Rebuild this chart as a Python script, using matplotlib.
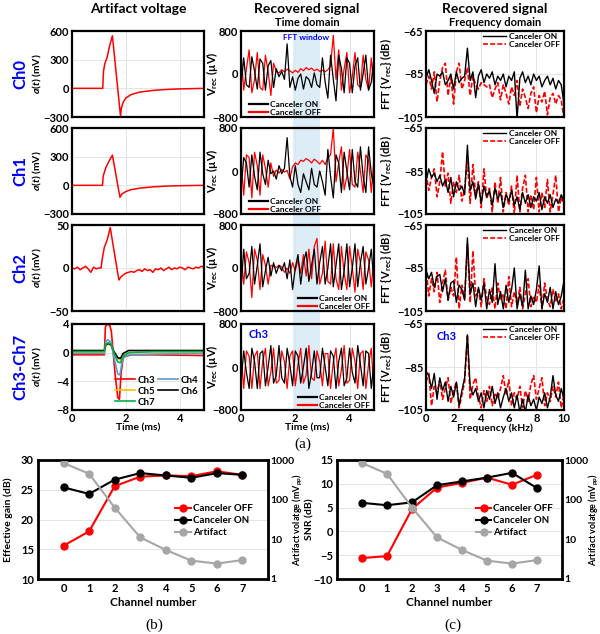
import numpy as np
import matplotlib
matplotlib.use("Agg")
import matplotlib.pyplot as plt
from matplotlib.patches import Rectangle
from matplotlib.lines import Line2D

plt.rcParams['font.family'] = ['Lato', 'DejaVu Sans']
plt.rcParams['font.weight'] = 'bold'
plt.rcParams['axes.labelweight'] = 'bold'
plt.rcParams['mathtext.fontset'] = 'custom'
plt.rcParams['mathtext.rm'] = 'Lato:bold'
plt.rcParams['mathtext.it'] = 'Lato:italic:bold'
plt.rcParams['mathtext.bf'] = 'Lato:bold'

# ---------------------------------------------------------------------------
# Artifact voltage (mV) vs time (ms)
# ---------------------------------------------------------------------------
ch0_t = [0, 1.14, 1.17, 1.22, 1.3, 1.4, 1.5, 1.8, 1.83, 1.9, 2.0, 2.2, 2.5, 3.0, 3.5, 4.0, 4.9]
ch0_v = [0, 0, 180, 260, 320, 450, 550, -290, -210, -145, -100, -65, -40, -22, -12, -6, 0]

ch1_t = [0, 1.13, 1.16, 1.25, 1.35, 1.5, 1.78, 1.85, 2.0, 2.2, 2.5, 3.0, 3.5, 4.0, 4.9]
ch1_v = [0, 0, 100, 180, 240, 316, -125, -90, -65, -45, -30, -16, -8, -4, 0]

ch2_t = [0.0, 0.1, 0.2, 0.3, 0.4, 0.5, 0.6, 0.7, 0.8, 0.9, 1.0,
         1.08, 1.12, 1.2, 1.3, 1.42, 1.55, 1.74,
         1.8, 1.9, 2.0, 2.1, 2.2, 2.3, 2.4, 2.5, 2.6, 2.7, 2.8, 2.9, 3.0, 3.1, 3.2, 3.3,
         3.4, 3.5, 3.6, 3.7, 3.8, 3.9, 4.0, 4.1, 4.2, 4.3, 4.4, 4.5, 4.6, 4.7, 4.8, 4.9]
ch2_v = [0, -1, 1, -2, 0, 2, -1, -5, 1, -1, 0,
         0, 10, 24, 32, 47, 22, -14,
         -11, -8, -6, -5, -4, -5, -3, -2, -4, -1, -3, -2, -5, -1, -2, 0,
         -3, -1, 1, -2, 0, -1, 1, 0, -2, 1, 0, -1, 1, 0, 2, 1]

ch3_t = [0, 1.2, 1.24, 1.3, 1.4, 1.46, 1.6, 1.7, 1.76, 1.82, 1.9, 2.2, 3.0, 4.9]
ch3_v = [-0.3, -0.3, 3.6, 4.0, 3.8, 3.0, -3.0, -6.3, -6.5, -3.0, -0.6, -0.3, -0.3, -0.4]
ch4_t = [0, 1.2, 1.25, 1.32, 1.45, 1.55, 1.7, 1.78, 1.88, 2.1, 3.0, 4.9]
ch4_v = [-0.1, -0.1, 1.5, 1.8, 1.5, -0.5, -3.0, -3.1, -0.8, -0.3, -0.2, -0.1]
ch5_t = [0, 1.2, 1.25, 1.35, 1.45, 1.55, 1.7, 1.8, 1.9, 2.1, 3.0, 4.9]
ch5_v = [0.1, 0.1, 1.0, 1.2, 1.0, 0.0, -0.9, -1.0, -0.4, 0.0, 0.1, 0.1]
ch6_t = [0, 1.2, 1.25, 1.35, 1.45, 1.55, 1.7, 1.8, 1.9, 2.1, 3.0, 4.9]
ch6_v = [0.3, 0.3, 1.1, 1.3, 1.1, 0.2, -0.7, -0.8, -0.1, 0.3, 0.3, 0.3]
ch7_t = [0, 1.2, 1.25, 1.35, 1.45, 1.55, 1.7, 1.8, 1.9, 2.1, 3.0, 4.9]
ch7_v = [0.15, 0.15, 1.2, 1.4, 1.2, 0.0, -1.3, -1.4, -0.5, 0.0, 0.15, 0.15]

# ---------------------------------------------------------------------------
# Recovered signal, time domain (uV), sampled every 0.1 ms from 0 to 4.9 ms
# ---------------------------------------------------------------------------
time_ms = np.round(np.arange(50) * 0.1, 1)

rec_on = [
    [-250, 300, -200, -250, 320, 50, -280, 280, 200, -300, 150, 250, -250, 100, -50, 50, -100, 560, -250,
     -50, -300, -80, 0, -280, -50, -100, -250, 20, -200, -250,
     300, -150, -450, 350, -100, -500, 350, 100, -350, 300, 200, -350, 150, 300, -300, 0, 350, -300, -150, 300],
    [-350, 250, 150, -300, 300, -100, -350, 350, -50, -250, 200, -50, 0, -150, 100, -50, 50, 620, -100,
     -300, 100, -250, -400, -50, -200, -350, 50, -250, -300, 0,
     -200, -450, 400, -100, -500, 300, 150, -400, 350, 0, -350, 400, -200, -300, 450, -100, -400, 450, -50, -300],
    [-400, 350, -200, -100, 400, -300, 50, 450, -350, -50, 200, -150, 100, -100, 50, -50, 100, -200, 150,
     -400, 0, 250, -300, 100, 300, -250, 50, 350, -300, 100,
     400, -300, 0, 450, -350, 50, 450, -400, -50, 450, -350, 0, 450, -350, 100, 400, -300, 0, 350, -300],
    [-300, 300, -100, -400, 350, 100, -400, 250, 300, -350, 0, 400, -300, -150, 400, -200, -300, 350, 50,
     -350, 300, 200, -300, 0, 350, -400, -100, 300, -200, -200,
     350, 0, -350, 300, 200, -400, 100, 350, -350, -200, 350, -100, -300, 400, 50, -350, 300, 250, -400, 100],
]
rec_off = [
    [400, -300, 100, 450, -350, -100, 400, -250, -300, 350, 50, -400, 200, 50, 20, 80, 40, 90, 60,
     20, 70, 30, 100, 60, 120, 80, 110, 60, 90, 50,
     70, 40, 80, 150, 720, -100, 450, -300, 100, 400, -350, -50, 400, -200, -250, 350, -100, -300, 300, -250],
    [200, -450, 300, 250, -500, 350, 100, -450, 300, 50, -300, 150, -100, 20, -40, 30, -20, 10, -150,
     80, 150, 120, 200, 180, 230, 200, 150, 220, 180, 130,
     200, 120, 250, 300, 800, -200, 150, 450, -350, -100, 400, -250, -300, 350, 0, -400, 300, 200, -400, 250],
    [250, -300, 300, 100, -550, 350, 150, -400, 250, 50, -300, 50, 30, 10, 50, 20, -80, 0, -100,
     100, -50, 150, -100, 250, -150, 350, -200, 400, 550, -300,
     -100, 500, -250, -300, 450, -200, -400, 400, -100, -400, 400, 0, -450, 350, 100, -400, 300, 150, -350, 200],
    [250, -400, 300, 200, -400, 200, 300, -400, 100, 350, -350, -100, 350, -300, -250, 300, 100, -400, 200,
     300, -350, 50, 350, -300, -150, 400, -200, -250, 300, 100,
     -350, 250, 250, -400, 100, 350, -350, -50, 400, -300, -250, 350, 100, -400, 250, 300, -400, 50, 350, -450],
]

# ---------------------------------------------------------------------------
# Recovered signal, frequency domain (dB), every 0.2 kHz from 0 to 10 kHz
# ---------------------------------------------------------------------------
freq_khz = np.round(np.arange(51) * 0.2, 1)

fft_on = [
    [-87, -83, -88, -94, -85, -86, -84, -90, -88, -85, -92, -84, -89, -87, -86, -73, -88, -84, -96, -86,
     -83, -89, -85, -87, -84, -90, -86, -88, -85, -91, -86, -88, -84, -106, -87, -84, -89, -86, -90, -85,
     -88, -86, -91, -88, -86, -90, -87, -92, -88, -90, -99],
    [-90, -84, -88, -86, -90, -87, -92, -89, -95, -88, -97, -90, -94, -92, -96, -73, -94, -90, -98, -91,
     -100, -92, -97, -94, -101, -93, -98, -95, -102, -96, -99, -94, -101, -97, -103, -95, -100, -96, -102, -97,
     -99, -95, -103, -97, -100, -96, -102, -98, -100, -96, -99],
    [-86, -90, -87, -94, -89, -88, -96, -90, -100, -92, -91, -101, -93, -95, -100, -71, -97, -92, -103, -94,
     -100, -92, -104, -95, -101, -83, -102, -96, -104, -93, -101, -95, -85, -104, -97, -103, -86, -104, -98, -102,
     -95, -84, -104, -97, -101, -94, -104, -96, -102, -98, -91],
    [-87, -89, -95, -88, -100, -90, -96, -92, -101, -94, -99, -92, -103, -96, -90, -70, -94, -98, -95, -101,
     -97, -104, -96, -100, -94, -102, -97, -104, -99, -95, -101, -97, -104, -98, -106, -100, -106, -98, -103, -100,
     -105, -99, -102, -97, -104, -99, -89, -98, -101, -95, -100],
]
fft_off = [
    [-90, -86, -92, -84, -98, -88, -82, -80, -95, -86, -99, -84, -80, -92, -88, -82, -95, -86, -90, -92,
     -89, -90, -91, -90, -96, -92, -89, -97, -90, -94, -99, -91, -95, -88, -100, -92, -96, -101, -94, -91,
     -103, -95, -98, -93, -104, -96, -94, -99, -95, -97, -106],
    [-86, -94, -88, -84, -97, -90, -76, -92, -86, -100, -90, -95, -87, -99, -93, -80, -100, -82, -96, -90,
     -102, -84, -98, -93, -104, -90, -100, -88, -104, -95, -101, -92, -105, -87, -104, -93, -87, -104, -96, -103,
     -88, -104, -95, -102, -89, -104, -96, -87, -104, -97, -101],
    [-84, -98, -90, -96, -87, -101, -92, -86, -100, -94, -98, -80, -104, -93, -99, -74, -101, -77, -98, -95,
     -103, -90, -99, -102, -94, -104, -92, -100, -97, -104, -89, -103, -96, -102, -94, -104, -97, -90, -103, -98,
     -101, -93, -104, -92, -100, -103, -95, -101, -97, -104, -99],
    [-92, -88, -103, -94, -97, -91, -100, -95, -90, -102, -96, -92, -104, -98, -92, -70, -100, -93, -90, -99,
     -104, -96, -101, -94, -103, -97, -100, -95, -89, -98, -91, -103, -97, -100, -94, -104, -96, -101, -93, -89,
     -100, -95, -90, -103, -97, -101, -94, -99, -92, -104, -98],
]

# ---------------------------------------------------------------------------
# Per-channel summary
# ---------------------------------------------------------------------------
channels = [0, 1, 2, 3, 4, 5, 6, 7]
gain_off = [15.6, 18.0, 25.6, 27.2, 27.4, 27.3, 28.1, 27.5]
gain_on = [25.4, 24.3, 26.7, 27.8, 27.4, 27.0, 27.8, 27.5]
snr_off = [-5.6, -5.2, 4.7, 9.2, 10.2, 11.3, 9.8, 11.9]
snr_on = [6.0, 5.5, 6.1, 9.7, 10.5, 11.3, 12.3, 9.1]
artifact_mvpp = [840, 450, 63, 11.2, 5.4, 2.9, 2.45, 3.0]

# ---------------------------------------------------------------------------
# Figure
# ---------------------------------------------------------------------------
W, H = 600, 634
fig = plt.figure(figsize=(W / 100, H / 100), dpi=100)
RED = '#ff0000'
BLUE = '#0000ff'
GRID = '#e4e4e4'


def px_rect(left, top, right, bottom):
    return [left / W, 1 - bottom / H, (right - left) / W, (bottom - top) / H]


def style_box(ax, lw=1.6):
    for s in ax.spines.values():
        s.set_linewidth(lw)
        s.set_color('black')
    ax.tick_params(length=0, labelsize=8, pad=2)
    ax.grid(True, color=GRID, lw=0.7)
    ax.set_axisbelow(True)


row_tops = [31, 128, 225, 324]
row_h = 86
col1 = (72, 204)
col2 = (241, 374)
col3 = (426, 564)

# column titles
fig.text(138 / W, 1 - 9 / H, 'Artifact voltage', ha='center', va='center', fontsize=10)
fig.text(307 / W, 1 - 9 / H, 'Recovered signal', ha='center', va='center', fontsize=10)
fig.text(307 / W, 1 - 23 / H, 'Time domain', ha='center', va='center', fontsize=8)
fig.text(495 / W, 1 - 9 / H, 'Recovered signal', ha='center', va='center', fontsize=10)
fig.text(495 / W, 1 - 23 / H, 'Frequency domain', ha='center', va='center', fontsize=8)

# --- column 1: artifact voltage
art_traces = [(ch0_t, ch0_v), (ch1_t, ch1_v), (ch2_t, ch2_v)]
art_lims = [(-300, 600), (-300, 600), (-50, 50), (-8, 4)]
art_ticks = [[-300, 0, 300, 600], [-300, 0, 300, 600], [-50, 0, 50], [-8, -4, 0, 4]]
row_names = ['Ch0', 'Ch1', 'Ch2', 'Ch3-Ch7']

for i, top in enumerate(row_tops):
    ax = fig.add_axes(px_rect(col1[0], top, col1[1], top + row_h))
    style_box(ax)
    if i < 3:
        ax.plot(art_traces[i][0], art_traces[i][1], color=RED, lw=1.1)
    else:
        l3, = ax.plot(ch3_t, ch3_v, color=RED, lw=1.2, label='Ch3')
        l4, = ax.plot(ch4_t, ch4_v, color='#5b9bd5', lw=1.2, label='Ch4')
        l5, = ax.plot(ch5_t, ch5_v, color='#ffc000', lw=1.2, label='Ch5')
        l6, = ax.plot(ch6_t, ch6_v, color='black', lw=1.2, label='Ch6')
        l7, = ax.plot(ch7_t, ch7_v, color='#00b050', lw=1.2, label='Ch7')
        ax.legend(handles=[l3, l5, l7, l4, l6], ncol=2, loc='lower right', bbox_to_anchor=(1.0, -0.03),
                  frameon=False, fontsize=7, handlelength=2.0, handletextpad=0.3,
                  columnspacing=0.3, labelspacing=0.2, borderaxespad=0.2)
    ax.set_xlim(0, 4.9)
    ax.set_ylim(*art_lims[i])
    ax.set_yticks(art_ticks[i])
    ax.set_xticks([0, 2, 4])
    if i < 3:
        ax.tick_params(labelbottom=False)
    else:
        ax.set_xlabel('Time (ms)', fontsize=7.5, labelpad=0)
    ax.set_ylabel(r'$a(t)$ (mV)', fontsize=7.5)
    ax.yaxis.set_label_coords(-0.215, 0.5)
    fig.text(20 / W, 1 - (top + row_h / 2) / H, row_names[i], rotation=90, ha='center', va='center',
             color=BLUE, fontsize=12)

# --- column 2: recovered signal, time domain
col2_axes = []
for i, top in enumerate(row_tops):
    ax = fig.add_axes(px_rect(col2[0], top, col2[1], top + row_h))
    ax.set_facecolor('none')
    style_box(ax)
    ax.plot(time_ms, rec_off[i], color=RED, lw=0.9, zorder=2)
    ax.plot(time_ms, rec_on[i], color='black', lw=0.9, zorder=3)
    ax.set_xlim(0, 4.9)
    ax.set_ylim(-800, 800)
    ax.set_yticks([-800, 0, 800])
    ax.set_xticks([0, 2, 4])
    ax.set_ylabel(r'V$_{\mathrm{rec}}$ (µV)', fontsize=8)
    ax.yaxis.set_label_coords(-0.16, 0.5)
    handles = [Line2D([], [], color='black', lw=1.6), Line2D([], [], color=RED, lw=1.6)]
    if i < 2:
        loc, anchor = 'lower left', (0.03, -0.04)
    else:
        loc, anchor = 'lower right', (1.0, -0.04)
    ax.legend(handles, ['Canceler ON', 'Canceler OFF'], loc=loc, bbox_to_anchor=anchor, frameon=False,
              fontsize=6, handlelength=2.3, handletextpad=0.2, labelspacing=0.2, borderaxespad=0.1)
    if i < 3:
        ax.tick_params(labelbottom=False)
    else:
        ax.set_xlabel('Time (ms)', fontsize=7.5, labelpad=0)
        ax.text(0.06, 0.88, 'Ch3', transform=ax.transAxes, color=BLUE, fontsize=8, va='center')
    col2_axes.append(ax)

col2_axes[0].text(2.4, 680, 'FFT window', color=BLUE, fontsize=6, ha='center', va='center')

# FFT window band behind all four time-domain panels
fig.canvas.draw()
to_fig = fig.transFigure.inverted()
x_lo = to_fig.transform(col2_axes[0].transData.transform((1.9, 0)))[0]
x_hi = to_fig.transform(col2_axes[0].transData.transform((2.9, 0)))[0]
y_top = 1 - row_tops[0] / H
y_bot = 1 - (row_tops[3] + row_h) / H
fig.add_artist(Rectangle((x_lo, y_bot), x_hi - x_lo, y_top - y_bot, transform=fig.transFigure,
                         facecolor='#dcedf8', edgecolor='none', zorder=-1))

# --- column 3: recovered signal, frequency domain
for i, top in enumerate(row_tops):
    ax = fig.add_axes(px_rect(col3[0], top, col3[1], top + row_h))
    style_box(ax)
    ax.plot(freq_khz, fft_on[i], color='black', lw=1.0, label='Canceler ON', zorder=3)
    ax.plot(freq_khz, fft_off[i], color=RED, lw=1.2, ls=(0, (3, 1.3)), label='Canceler OFF', zorder=2)
    ax.set_xlim(0, 10)
    ax.set_ylim(-105, -65)
    ax.set_yticks([-105, -85, -65])
    ax.set_xticks([0, 2, 4, 6, 8, 10])
    ax.set_ylabel(r'FFT {V$_{\mathrm{rec}}$} (dB)', fontsize=8)
    ax.yaxis.set_label_coords(-0.23, 0.5)
    ax.legend(loc='upper right', bbox_to_anchor=(1.0, 1.03), frameon=False, fontsize=6,
              handlelength=2.8, handletextpad=0.3, labelspacing=0.2, borderaxespad=0.1)
    if i < 3:
        ax.tick_params(labelbottom=False)
    else:
        ax.set_xlabel('Frequency (kHz)', fontsize=7.5, labelpad=0)
        ax.text(0.08, 0.86, 'Ch3', transform=ax.transAxes, color=BLUE, fontsize=8, va='center')

fig.text(303 / W, 1 - 444 / H, '(a)', ha='center', va='center', fontsize=11,
         family='Liberation Serif', weight='normal')


# --- bottom panels: effective gain and SNR per channel
def summary_panel(rect, off_vals, on_vals, ylim, yticks, ylabel, legend_x, label_x, rlabel_x, tag, tag_x):
    ax = fig.add_axes(rect)
    for s in ax.spines.values():
        s.set_linewidth(2.0)
    ax.tick_params(length=0, labelsize=8, pad=3)
    ax.grid(True, axis='y', color=GRID, lw=0.7)
    ax.set_axisbelow(True)
    h_off, = ax.plot(channels, off_vals, color=RED, marker='o', ms=5, lw=1.5, label='Canceler OFF', zorder=3)
    h_on, = ax.plot(channels, on_vals, color='black', marker='o', ms=5, lw=1.5, label='Canceler ON', zorder=4)
    ax.set_xlim(-1, 8)
    ax.set_ylim(*ylim)
    ax.set_yticks(yticks)
    ax.set_xticks(channels)
    ax.set_xlabel('Channel number', fontsize=8.5, labelpad=2)
    ax.set_ylabel(ylabel, fontsize=7.5)
    ax.yaxis.set_label_coords(label_x, 0.5)
    tw = ax.twinx()
    tw.set_yscale('log')
    h_art, = tw.plot(channels, artifact_mvpp, color='#a6a6a6', marker='o', ms=5, lw=1.5, label='Artifact')
    tw.set_ylim(1, 1000)
    tw.set_yticks([1, 10, 100, 1000])
    tw.set_yticklabels(['1', '10', '100', '1000'])
    tw.minorticks_off()
    tw.tick_params(length=0, labelsize=7.5, pad=1.5)
    tw.set_ylabel(r'Artifact volatge (mV$_{\mathrm{pp}}$)', fontsize=6.5)
    tw.yaxis.set_label_coords(rlabel_x, 0.5)
    tw.legend(handles=[h_off, h_on, h_art], loc='upper left', bbox_to_anchor=(legend_x, 0.66),
              frameon=False, fontsize=7, handlelength=1.6, handletextpad=0.2, labelspacing=0.3,
              borderaxespad=0)
    fig.text(tag_x / W, 1 - 625 / H, tag, ha='center', va='center', fontsize=11,
             family='Liberation Serif', weight='normal')


summary_panel(px_rect(38, 460, 268, 579), gain_off, gain_on, (10, 30), [10, 15, 20, 25, 30],
              'Effective gain (dB)', 0.58, -0.11, 1.10, '(b)', 154)
summary_panel(px_rect(337, 460, 562, 579), snr_off, snr_on, (-10, 15), [-10, -5, 0, 5, 10, 15],
              'SNR (dB)', 0.6, -0.10, 1.112, '(c)', 453)

fig.savefig('out.png', dpi=100)
